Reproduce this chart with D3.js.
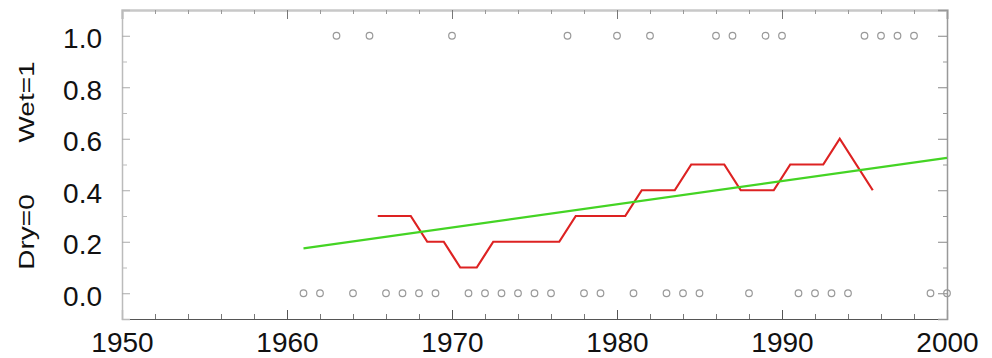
<!DOCTYPE html>
<html>
<head>
<meta charset="utf-8">
<script src="https://cdn.jsdelivr.net/npm/d3@7"></script>
<style>
  body { margin: 0; background: #fff; }
  svg text { font-family: "Liberation Sans", Arial, Helvetica, sans-serif; fill: #111; }
</style>
</head>
<body>
<script>
// yearly wet (1) / dry (0) observations
var years = [1961, 1962, 1963, 1964, 1965, 1966, 1967, 1968, 1969, 1970,
             1971, 1972, 1973, 1974, 1975, 1976, 1977, 1978, 1979, 1980,
             1981, 1982, 1983, 1984, 1985, 1986, 1987, 1988, 1989, 1990,
             1991, 1992, 1993, 1994, 1995, 1996, 1997, 1998, 1999, 2000];
var wetDry = [0, 0, 1, 0, 1, 0, 0, 0, 0, 1,
              0, 0, 0, 0, 0, 0, 1, 0, 0, 1,
              0, 1, 0, 0, 0, 1, 1, 0, 1, 1,
              0, 0, 0, 0, 1, 1, 1, 1, 0, 0];

// red line (10 yr running mean)
var runYears = [1965.5, 1966.5, 1967.5, 1968.5, 1969.5, 1970.5, 1971.5, 1972.5, 1973.5, 1974.5,
                1975.5, 1976.5, 1977.5, 1978.5, 1979.5, 1980.5, 1981.5, 1982.5, 1983.5, 1984.5,
                1985.5, 1986.5, 1987.5, 1988.5, 1989.5, 1990.5, 1991.5, 1992.5, 1993.5, 1994.5, 1995.5];
var runValues = [0.3, 0.3, 0.3, 0.2, 0.2, 0.1, 0.1, 0.2, 0.2, 0.2,
                 0.2, 0.2, 0.3, 0.3, 0.3, 0.3, 0.4, 0.4, 0.4, 0.5,
                 0.5, 0.5, 0.4, 0.4, 0.4, 0.5, 0.5, 0.5, 0.6, 0.5, 0.4];

// green trend line
var trendYears = [1961, 2000];
var trendValues = [0.174, 0.526];

var xTicks = [1950, 1960, 1970, 1980, 1990, 2000];
var yTicks = [0.0, 0.2, 0.4, 0.6, 0.8, 1.0];

var W = 992, H = 358;
var plotL = 122, plotR = 947, plotT = 10, plotB = 319;

var svg = d3.select("body").append("svg").attr("width", W).attr("height", H);

var x = d3.scaleLinear().domain([1950, 2000]).range([plotL, plotR]);
var y = d3.scaleLinear().domain([-0.1, 1.1]).range([plotB, plotT]);

var xMinor = d3.range(1952, 2000, 2).filter(d => d % 10 !== 0);
var yMinor = [-0.1, 0.1, 0.3, 0.5, 0.7, 0.9, 1.1];

function styleAxis(g, domainColor, domainWidth, tickColor) {
    g.select(".domain").attr("stroke", domainColor).attr("stroke-width", domainWidth);
    g.selectAll(".tick line").attr("stroke", tickColor);
}

/*----------  axes  ----------*/
// bottom
var gb = svg.append("g").attr("transform", "translate(0," + plotB + ")")
    .call(d3.axisBottom(x).tickValues(xTicks).tickSize(-9).tickFormat(d3.format("d")));
styleAxis(gb, "#555", 1.2, "#555");
gb.selectAll("text").attr("y", 33).attr("dy", null).style("font-size", "28px");
var gb2 = svg.append("g").attr("transform", "translate(0," + plotB + ")")
    .call(d3.axisBottom(x).tickValues(xMinor).tickSize(-5).tickFormat(""));
styleAxis(gb2, "none", 0, "#777");

// top
var gt = svg.append("g").attr("transform", "translate(0," + plotT + ")")
    .call(d3.axisTop(x).tickValues(xTicks).tickSize(-9).tickFormat(""));
styleAxis(gt, "#c8c8c8", 2.5, "#777");
var gt2 = svg.append("g").attr("transform", "translate(0," + plotT + ")")
    .call(d3.axisTop(x).tickValues(xMinor).tickSize(-4).tickFormat(""));
styleAxis(gt2, "none", 0, "#999");

// left
var gl = svg.append("g").attr("transform", "translate(" + plotL + ",0)")
    .call(d3.axisLeft(y).tickValues(yTicks).tickSize(-8).tickFormat(d3.format(".1f")));
styleAxis(gl, "#bbb", 1.5, "#aaa");
gl.selectAll("text").attr("x", -20).attr("dy", "0.42em").style("font-size", "28px");
var gl2 = svg.append("g").attr("transform", "translate(" + plotL + ",0)")
    .call(d3.axisLeft(y).tickValues(yMinor).tickSize(-5).tickFormat(""));
styleAxis(gl2, "none", 0, "#bbb");

// right
var gr = svg.append("g").attr("transform", "translate(" + plotR + ",0)")
    .call(d3.axisRight(y).tickValues(yTicks).tickSize(-9).tickFormat(""));
styleAxis(gr, "#999", 1.5, "#888");
var gr2 = svg.append("g").attr("transform", "translate(" + plotR + ",0)")
    .call(d3.axisRight(y).tickValues(yMinor).tickSize(-4).tickFormat(""));
styleAxis(gr2, "none", 0, "#999");

/*----------  y labels  ----------*/
svg.append("g").attr("transform", "translate(34,102) rotate(-90)")
    .append("text").attr("text-anchor", "middle").attr("transform", "scale(1,0.8)")
    .style("font-size", "28px").text("Wet=1");
svg.append("g").attr("transform", "translate(34,232) rotate(-90)")
    .append("text").attr("text-anchor", "middle").attr("transform", "scale(1,0.8)")
    .style("font-size", "28px").text("Dry=0");

/*----------  observations  ----------*/
svg.append("g").selectAll("circle")
    .data(years)
    .enter()
    .append("circle")
    .attr("cx", d => x(d))
    .attr("cy", (d, i) => y(wetDry[i]))
    .attr("r", 3.3)
    .style("fill", "none")
    .style("stroke", "#999")
    .style("stroke-width", 1.2);

/*----------  lines  ----------*/
var line = d3.line().x(d => x(d[0])).y(d => y(d[1]));

svg.append("path")
    .datum(runYears.map((d, i) => [d, runValues[i]]))
    .attr("d", line)
    .style("fill", "none")
    .style("stroke", "#dd2222")
    .style("stroke-width", 2.2);

svg.append("path")
    .datum(trendYears.map((d, i) => [d, trendValues[i]]))
    .attr("d", line)
    .style("fill", "none")
    .style("stroke", "#44d424")
    .style("stroke-width", 2.2);
</script>
</body>
</html>
